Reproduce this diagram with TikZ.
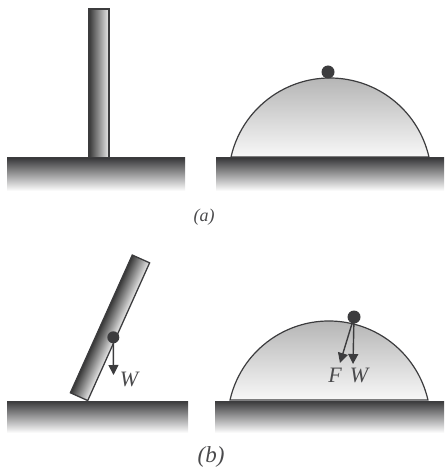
\documentclass[tikz,border=0pt]{standalone}
\usepackage{fontspec}
\setmainfont{Liberation Serif}
\usetikzlibrary{arrows.meta}
\definecolor{ink}{HTML}{3C3C3E}
\definecolor{txt}{HTML}{4A4A4C}
\tikzset{
  x=1pt,y=-1pt,
  groundbar/.style={top color=ink!95!black,bottom color=white,draw=none},
  domeshape/.style={draw=ink,line width=1.2pt,top color=black!32,bottom color=black!3},
  barshape/.style={draw=ink,line width=1.3pt,left color=black!78,right color=black!8,inner sep=0pt,outer sep=0pt},
  ball/.style={circle,fill=ink,draw=none,inner sep=0pt,minimum size=13pt},
  force/.style={draw=ink,line width=1.4pt,-{Triangle[length=10pt,width=10pt]},shorten <=-2pt},
  caption/.style={text=txt,inner sep=0pt,font=\itshape},
  flabel/.style={text=txt,inner sep=0pt,font=\fontsize{22}{22}\selectfont\itshape}
}
\begin{document}
\begin{tikzpicture}
\useasboundingbox (0,0) rectangle (444,470);
% (a) left
\node[barshape,minimum width=20pt,minimum height=149pt] (barA) at (99,83.5) {};
\fill[groundbar] (7,158) rectangle (185,191);
\draw[ink,line width=1pt] (7,158) -- (185,158);
% (a) right
\draw[domeshape] (231,157) arc[start angle=167.2,end angle=12.8,radius=101.5pt] -- cycle;
\fill[groundbar] (216,158) rectangle (444,191);
\draw[ink,line width=1pt] (216,158) -- (444,158);
\node[ball] (ballA) at (328,72) {};
\node[caption,font=\fontsize{18}{18}\selectfont\itshape] (capA) at (204,217) {(a)};
% (b) left
\fill[groundbar] (7,401) rectangle (188,433);
\draw[ink,line width=1pt] (7,401) -- (188,401);
\begin{scope}[transform canvas={shift={(110,327.8)},rotate=-24.2}]
\node[barshape,minimum width=19pt,minimum height=151pt] (barB) at (0,0) {};
\end{scope}
\node[ball,minimum size=12pt] (ballB) at (113.3,337.3) {};
\coordinate (tipB) at (113.5,375);
\draw[force] (ballB) -- (tipB);
\node[flabel] (wB) at (129,379) {W};
% (b) right
\draw[domeshape] (230,400) arc[start angle=167.2,end angle=12.8,radius=101.5pt] -- cycle;
\fill[groundbar] (215,401) rectangle (444,433);
\draw[ink,line width=1pt] (215,401) -- (444,401);
\node[ball] (ballC) at (354,317) {};
\coordinate (tipF) at (340,363);
\coordinate (tipW) at (353,364);
\draw[force] (ballC) -- (tipF);
\draw[force] (ballC) -- (tipW);
\node[flabel] (lF) at (335,375) {F};
\node[flabel] (lW) at (359,375) {W};
\node[caption,font=\fontsize{23}{23}\selectfont\itshape] (capB) at (211,457) {(b)};
\end{tikzpicture}
\end{document}
